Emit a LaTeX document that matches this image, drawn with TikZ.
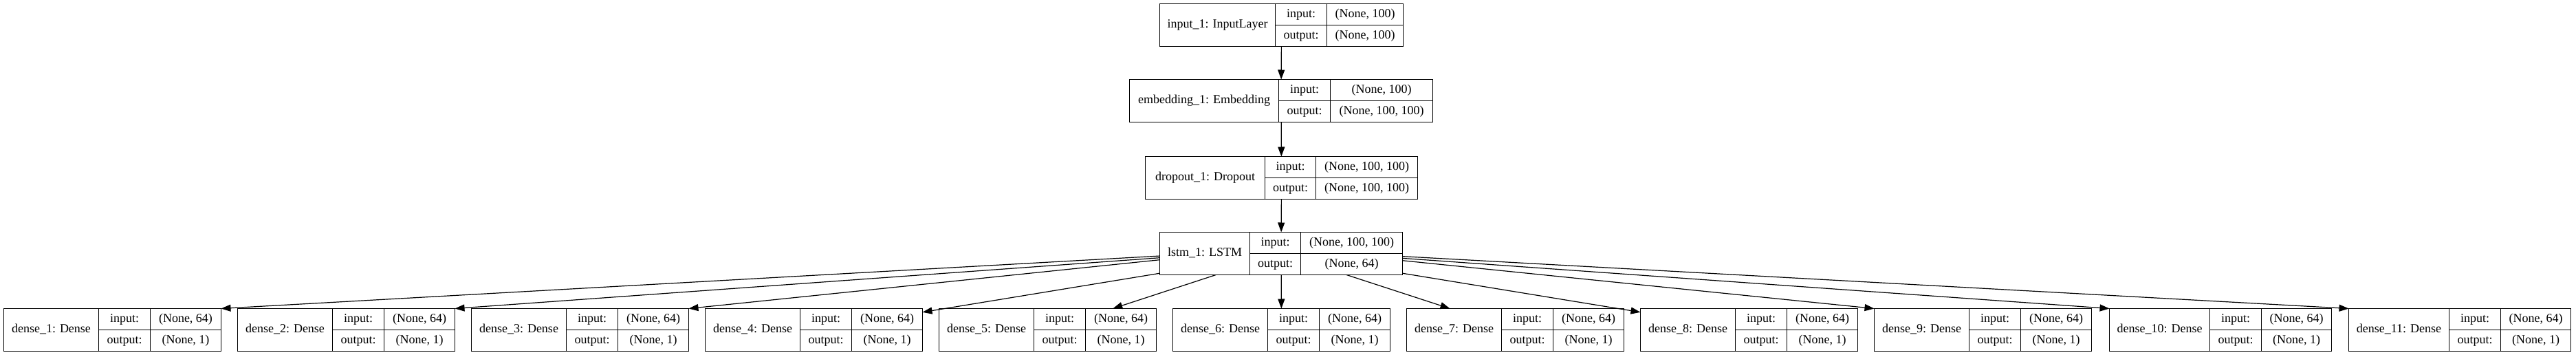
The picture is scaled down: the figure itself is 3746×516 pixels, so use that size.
\documentclass[tikz,border=0pt]{standalone}
\usepackage{fontspec}
\setmainfont{Liberation Serif}
\usetikzlibrary{arrows.meta,calc}
\def\rech{62}
\tikzset{
  recbox/.style={draw, line width=1.2pt, minimum height=62pt, inner sep=0pt, outer sep=0pt},
  recline/.style={line width=1.2pt},
  rectext/.style={inner sep=0pt, font=\fontsize{18}{20}\selectfont, text height=12.6pt, text depth=4.3pt},
  edge/.style={line width=1.2pt, -{Triangle[length=14pt,width=10pt]}},
}
% #1 name, #2 left, #3 top, #4 w1, #5 w2, #6 w3, #7 title, #8 input shape, #9 output shape
\newcommand\kerasrec[9]{%
  \node[recbox, minimum width={(#4+#5+#6)*1pt}, anchor=north west] (#1) at (#2,#3) {};
  \draw[recline] ({#2+#4},#3) -- ({#2+#4},{#3+\rech});
  \draw[recline] ({#2+#4+#5},#3) -- ({#2+#4+#5},{#3+\rech});
  \draw[recline] ({#2+#4},{#3+\rech/2}) -- ({#2+#4+#5+#6},{#3+\rech/2});
  \node[rectext] (#1-t) at ({#2+#4/2},{#3+\rech/2}) {#7};
  \node[rectext] (#1-il) at ({#2+#4+#5/2},{#3+\rech/4}) {input:};
  \node[rectext] (#1-iv) at ({#2+#4+#5+#6/2},{#3+\rech/4}) {#8};
  \node[rectext] (#1-ol) at ({#2+#4+#5/2},{#3+3*\rech/4}) {output:};
  \node[rectext] (#1-ov) at ({#2+#4+#5+#6/2},{#3+3*\rech/4}) {#9};
}
\begin{document}
\begin{tikzpicture}[x=1pt,y=-1pt]
\fill[white] (0,0) rectangle (3746,516);
\useasboundingbox (0,0) rectangle (3746,516);

\kerasrec{input1}{1686.5}{5.5}{168}{75}{111}{input\_1: InputLayer}{(None, 100)}{(None, 100)}
\kerasrec{embed1}{1642.5}{115.5}{217}{75}{149}{embedding\_1: Embedding}{(None, 100)}{(None, 100, 100)}
\kerasrec{drop1}{1665.5}{227.5}{174}{74}{148}{dropout\_1: Dropout}{(None, 100, 100)}{(None, 100, 100)}
\kerasrec{lstm1}{1686.5}{337.5}{131}{74}{148}{lstm\_1: LSTM}{(None, 100, 100)}{(None, 64)}

\kerasrec{dense1}{5.5}{448.5}{138}{75}{103}{dense\_1: Dense}{(None, 64)}{(None, 1)}
\kerasrec{dense2}{345.5}{448.5}{138}{75}{103}{dense\_2: Dense}{(None, 64)}{(None, 1)}
\kerasrec{dense3}{685.5}{448.5}{138}{75}{103}{dense\_3: Dense}{(None, 64)}{(None, 1)}
\kerasrec{dense4}{1025.5}{448.5}{138}{75}{103}{dense\_4: Dense}{(None, 64)}{(None, 1)}
\kerasrec{dense5}{1365.5}{448.5}{138}{75}{103}{dense\_5: Dense}{(None, 64)}{(None, 1)}
\kerasrec{dense6}{1705.5}{448.5}{138}{75}{103}{dense\_6: Dense}{(None, 64)}{(None, 1)}
\kerasrec{dense7}{2045.5}{448.5}{138}{75}{103}{dense\_7: Dense}{(None, 64)}{(None, 1)}
\kerasrec{dense8}{2385.5}{448.5}{138}{75}{103}{dense\_8: Dense}{(None, 64)}{(None, 1)}
\kerasrec{dense9}{2725.5}{448.5}{138}{75}{103}{dense\_9: Dense}{(None, 64)}{(None, 1)}
\kerasrec{dense10}{3067.5}{448.5}{146}{75}{102}{dense\_10: Dense}{(None, 64)}{(None, 1)}
\kerasrec{dense11}{3415.5}{448.5}{146}{75}{102}{dense\_11: Dense}{(None, 64)}{(None, 1)}

\draw[edge] (input1) -- (embed1);
\draw[edge] (embed1) -- (drop1);
\draw[edge] (drop1) -- (lstm1);

\draw[edge] ($(lstm1.north west)!0.557!(lstm1.south west)$) -- (dense1.north east);
\draw[edge] ($(lstm1.north west)!0.600!(lstm1.south west)$) -- (dense2.north east);
\draw[edge] ($(lstm1.north west)!0.648!(lstm1.south west)$) -- (dense3.north east);
\draw[edge] (lstm1) -- (dense4);
\draw[edge] (lstm1) -- (dense5);
\draw[edge] (lstm1) -- (dense6);
\draw[edge] (lstm1) -- (dense7);
\draw[edge] (lstm1) -- (dense8);
\draw[edge] ($(lstm1.north east)!0.665!(lstm1.south east)$) -- (dense9.north west);
\draw[edge] ($(lstm1.north east)!0.611!(lstm1.south east)$) -- (dense10.north west);
\draw[edge] ($(lstm1.north east)!0.567!(lstm1.south east)$) -- (dense11.north west);
\end{tikzpicture}
\end{document}
